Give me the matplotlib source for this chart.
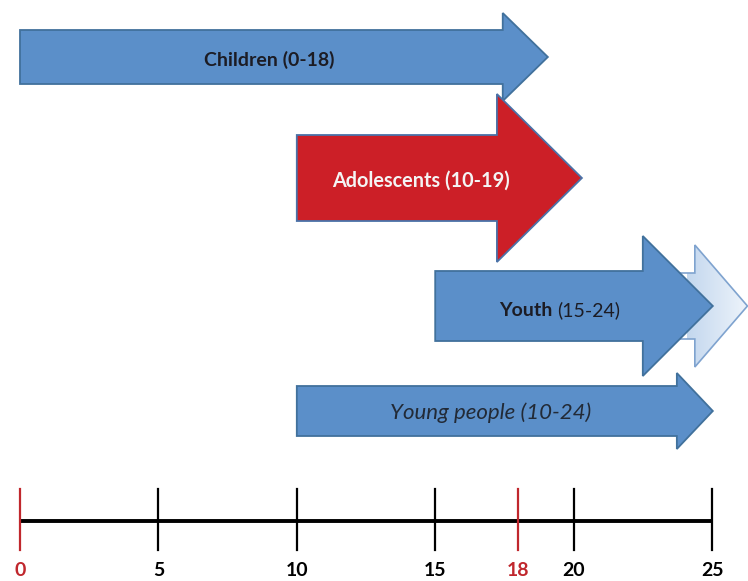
import numpy as np
import matplotlib
matplotlib.use('Agg')
import matplotlib.pyplot as plt
from matplotlib.patches import Polygon
from matplotlib.colors import LinearSegmentedColormap
from matplotlib.offsetbox import TextArea, HPacker, AnnotationBbox

plt.rcParams['font.family'] = ['Lato', 'DejaVu Sans']

# age groups (years)
groups = ['Children', 'Adolescents', 'Youth', 'Young people']
starts = [0, 10, 15, 10]
ends = [18, 19, 24, 24]

# timeline
tick_ages = [0, 5, 10, 15, 18, 20, 25]
highlight_ages = [0, 18]

# layout / style per arrow (y in pixels from top, head length in years)
row_y = [57, 178, 306, 411]
body_half = [27, 43, 35, 25]
head_half = [44, 84, 70, 38]
head_len = [1.63, 3.07, 2.53, 1.3]
tip_pad = [1.07, 1.3, 1.03, 1.03]
fills = ['#5b8fc9', '#cc1f27', '#5b8fc9', '#5b8fc9']
edges = ['#41719c', '#4a72a8', '#41719c', '#41719c']
text_colors = ['#1c1c24', '#f4f4f4', '#1c1c24', '#222a36']
font_sizes = [14, 14.3, 14, 16]

RED = '#c0272d'


def arrow_points(x0, tip, hl, yc, bh, hh):
    base = tip - hl
    return [(x0, yc - bh), (base, yc - bh), (base, yc - hh), (tip, yc),
            (base, yc + hh), (base, yc + bh), (x0, yc + bh)]


fig = plt.figure(figsize=(7.48, 5.81), dpi=100)
ax = fig.add_axes([0, 0, 1, 1])
px = 692 / 25.0
ax.set_xlim(-20 / px, -20 / px + 748 / px)
ax.set_ylim(581, 0)
ax.axis('off')

# pale extension behind the youth arrow
i = 2
shift = 1.25
g_tip = ends[i] + tip_pad[i] + shift
ghost = Polygon(arrow_points(starts[i] + shift, g_tip, 1.9, row_y[i], 33, 61),
                closed=True, facecolor='none', edgecolor='#7fa3cf', lw=1.2, zorder=1)
ax.add_patch(ghost)
grad = np.linspace(0, 1, 256).reshape(1, -1)
cm = LinearSegmentedColormap.from_list('pale', ['#c3d7ee', '#eef4fb'])
im = ax.imshow(grad, cmap=cm, extent=(g_tip - 2.2, g_tip, row_y[i] + 61, row_y[i] - 61),
               aspect='auto', zorder=0.9)
im.set_clip_path(ghost)

for i, name in enumerate(groups):
    tip = ends[i] + tip_pad[i]
    poly = Polygon(arrow_points(starts[i], tip, head_len[i], row_y[i], body_half[i], head_half[i]),
                   closed=True, facecolor=fills[i], edgecolor=edges[i], lw=1.3, zorder=2 + i)
    ax.add_patch(poly)
    label_x = (starts[i] + ends[i]) / 2
    rng = '(%d-%d)' % (starts[i], ends[i])
    fs = font_sizes[i]
    if name == 'Youth':
        box = HPacker(children=[
            TextArea(name, textprops=dict(color=text_colors[i], fontsize=fs, fontweight='bold')),
            TextArea(rng, textprops=dict(color=text_colors[i], fontsize=fs))],
            sep=3, pad=0, align='baseline')
        ab = AnnotationBbox(box, (label_x, row_y[i] + 4), frameon=False,
                            box_alignment=(0.5, 0.5), pad=0, zorder=10)
        ax.add_artist(ab)
    elif name == 'Young people':
        ax.text(label_x, row_y[i] + 2, name + ' ' + rng, ha='center', va='center',
                fontsize=fs, fontstyle='italic', color=text_colors[i], zorder=10)
    else:
        ax.text(label_x, row_y[i] + 3, name + ' ' + rng, ha='center', va='center',
                fontsize=fs, fontweight='bold', color=text_colors[i], zorder=10)

# timeline
line_y = 521
ax.plot([tick_ages[0], tick_ages[-1]], [line_y, line_y], color='black', lw=2.8,
        solid_capstyle='butt', zorder=5)
for a in tick_ages:
    c = RED if a in highlight_ages else 'black'
    ax.plot([a, a], [489, 550], color=c, lw=1.6, zorder=6)
    ax.text(a, 570, str(a), ha='center', va='center', fontsize=14,
            fontweight='bold', color=c)

fig.savefig('out.png', dpi=100)
